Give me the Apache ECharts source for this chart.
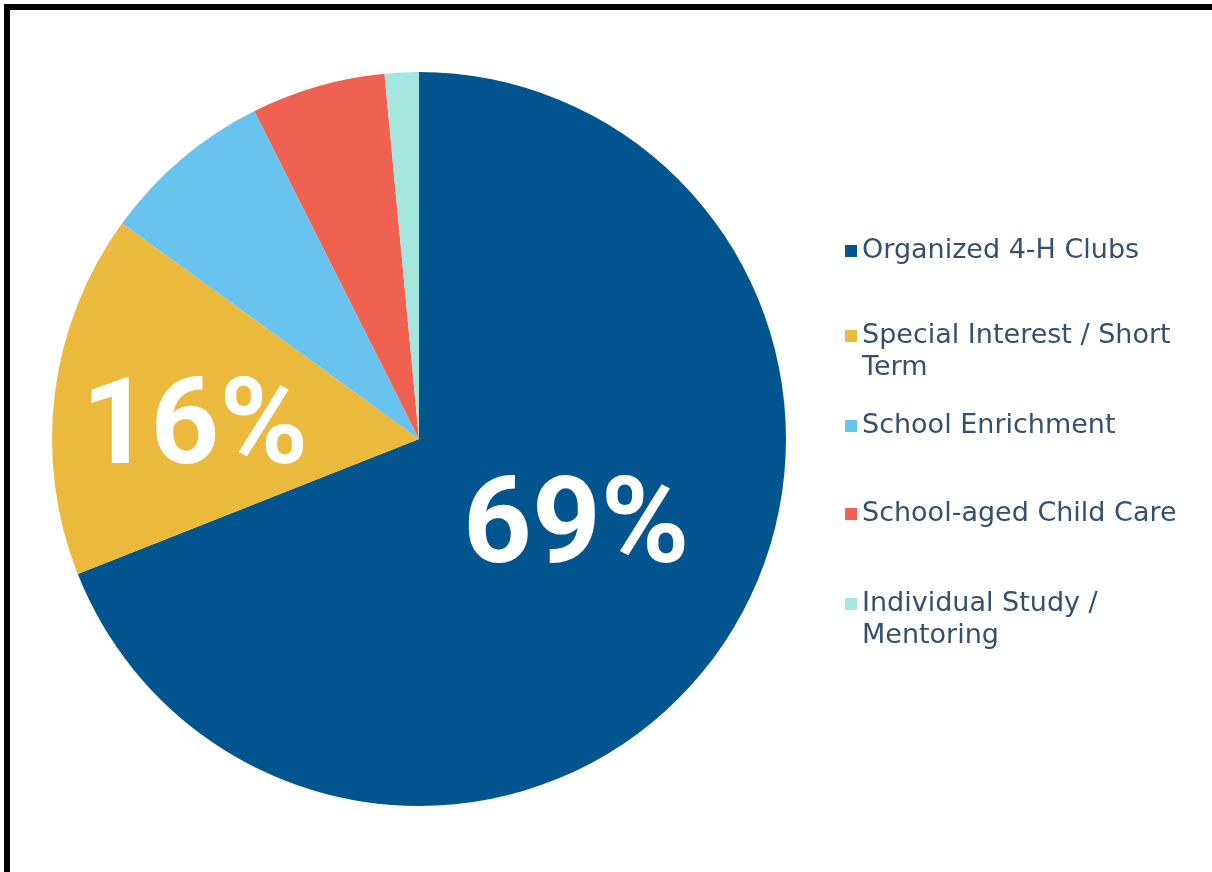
<!DOCTYPE html>
<html>
<head>
<meta charset="utf-8">
<script src="https://cdn.jsdelivr.net/npm/echarts@6/dist/echarts.min.js"></script>
<style>
html,body{margin:0;padding:0;background:#fff;}
#chart{width:1212px;height:872px;}
</style>
</head>
<body>
<div id="chart"></div>
<script>
const categories = ["Organized 4-H Clubs", "Special Interest / Short Term", "School Enrichment", "School-aged Child Care", "Individual Study / Mentoring"];
const legendLabels = ["Organized 4-H Clubs", "Special Interest / Short\nTerm", "School Enrichment", "School-aged Child Care", "Individual Study /\nMentoring"];
const values = [69, 16, 7.6, 5.9, 1.5];
const shownLabels = ["69%", "16%", "", "", ""];
const colors = ["#03558F", "#EBBA3D", "#68C3EF", "#EF6252", "#A5E7DF"];

const chart = echarts.init(document.getElementById('chart'));

const legendTops = [235, 320, 410, 498, 588];
// square at the top of the icon box so it lines up with the first text line
const tallIcon = 'path://M0,0H12V12H0Z M0,44L0.01,44L0,44Z';
const legends = categories.map((name, i) => {
  const twoLines = legendLabels[i].indexOf('\n') >= 0;
  return {
    orient: 'vertical',
    left: 845,
    top: legendTops[i],
    padding: 0,
    icon: twoLines ? tallIcon : 'rect',
    itemWidth: 12,
    itemHeight: twoLines ? 44 : 12,
    selectedMode: false,
    data: [name],
    formatter: () => legendLabels[i],
    textStyle: {
      fontFamily: "'DejaVu Sans', 'Liberation Sans', Arial, sans-serif",
      fontSize: 27,
      lineHeight: 32,
      color: '#33506F'
    }
  };
});

const labelOffsets = [[3, -12], [-39, 17], [0, 0], [0, 0], [0, 0]];

chart.setOption({
  animation: false,
  backgroundColor: '#ffffff',
  legend: legends,
  graphic: [
    { type: 'rect', shape: { x: 4, y: 4, width: 1208, height: 6 }, style: { fill: '#000' } },
    { type: 'rect', shape: { x: 4, y: 4, width: 6, height: 868 }, style: { fill: '#000' } }
  ],
  series: [{
    type: 'pie',
    center: [419, 439],
    radius: [0, 367],
    startAngle: 90,
    clockwise: true,
    avoidLabelOverlap: false,
    itemStyle: { borderWidth: 0 },
    label: {
      show: true,
      position: 'inside',
      formatter: p => shownLabels[p.dataIndex],
      color: '#ffffff',
      fontFamily: "Roboto, 'Liberation Sans', Arial, sans-serif",
      fontWeight: 'bold',
      fontSize: 120
    },
    labelLayout: p => ({ dx: labelOffsets[p.dataIndex][0], dy: labelOffsets[p.dataIndex][1] }),
    labelLine: { show: false },
    emphasis: { disabled: true },
    data: categories.map((name, i) => ({
      name: name,
      value: values[i],
      itemStyle: { color: colors[i] },
      label: { show: shownLabels[i] !== "" }
    }))
  }]
});
</script>
</body>
</html>
